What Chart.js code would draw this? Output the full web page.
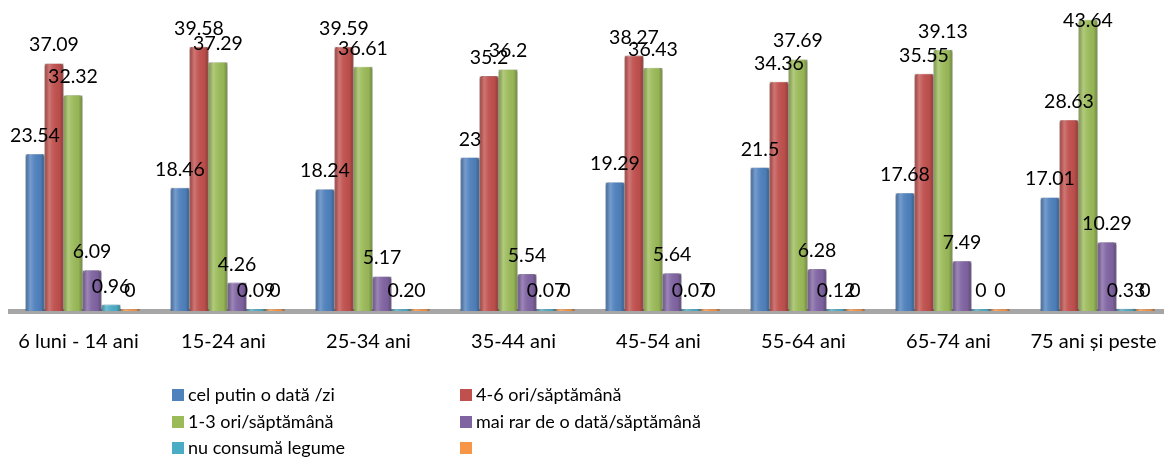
<!DOCTYPE html>
<html>
<head>
<meta charset="utf-8">
<script src="https://cdn.jsdelivr.net/npm/chart.js@4.4.1/dist/chart.umd.min.js"></script>
<style>
  html, body { margin: 0; padding: 0; background: #fff; overflow: hidden; }
  #wrap { width: 1164px; height: 457px; overflow: hidden; }
</style>
</head>
<body>
<div id="wrap"><canvas id="myChart" width="1172" height="457"></canvas></div>
<script>
// age groups
const categories = ['6 luni - 14 ani', '15-24 ani', '25-34 ani', '35-44 ani',
	'45-54 ani', '55-64 ani', '65-74 ani', '75 ani și peste'];

const seriesNames = ['cel putin o dată /zi', '4-6 ori/săptămână', '1-3 ori/săptămână',
	'mai rar de o dată/săptămână', 'nu consumă legume', ''];

const zilnic = [23.54, 18.46, 18.24, 23, 19.29, 21.5, 17.68, 17.01];
const ori46 = [37.09, 39.58, 39.59, 35.2, 38.27, 34.36, 35.55, 28.63];
const ori13 = [32.32, 37.29, 36.61, 36.2, 36.43, 37.69, 39.13, 43.64];
const maiRar = [6.09, 4.26, 5.17, 5.54, 5.64, 6.28, 7.49, 10.29];
const nuConsuma = [0.96, 0.09, 0.2, 0.07, 0.07, 0.12, 0, 0.33];
const gol = [0, 0, 0, 0, 0, 0, 0, 0];

const colors = ['#4F81BD', '#C0504D', '#9BBB59', '#8064A2', '#4BACC6', '#F79646'];
const borders = ['#3A6396', '#943B39', '#76923C', '#5F4A7B', '#31859C', '#C0732F'];

const allValues = [zilnic, ori46, ori13, maiRar, nuConsuma, gol];

const datasets = allValues.map((vals, i) => ({
	label: seriesNames[i],
	data: vals,
	backgroundColor: colors[i],
	borderColor: borders[i],
	borderWidth: 0.6,
	borderSkipped: 'bottom',
	borderRadius: { topLeft: 3, topRight: 3 },
	minBarLength: 2,
	barPercentage: 1,
	categoryPercentage: 0.786
}));

// shading so the bars look like the 3D cylinders
const shadePlugin = {
	id: 'shade',
	afterDatasetsDraw(chart) {
		const ctx = chart.ctx;
		chart.data.datasets.forEach((ds, di) => {
			const meta = chart.getDatasetMeta(di);
			meta.data.forEach(bar => {
				const p = bar.getProps(['x', 'y', 'base', 'width'], true);
				const left = p.x - p.width / 2;
				const g = ctx.createLinearGradient(left, 0, left + p.width, 0);
				g.addColorStop(0, 'rgba(0,0,0,0.22)');
				g.addColorStop(0.25, 'rgba(255,255,255,0.22)');
				g.addColorStop(0.45, 'rgba(255,255,255,0.06)');
				g.addColorStop(0.8, 'rgba(0,0,0,0.04)');
				g.addColorStop(1, 'rgba(0,0,0,0.3)');
				ctx.save();
				ctx.fillStyle = g;
				ctx.fillRect(left, p.y, p.width, p.base - p.y);
				ctx.restore();
			});
		});
	}
};

// value labels above each bar
const valueLabels = {
	id: 'valueLabels',
	afterDatasetsDraw(chart) {
		const ctx = chart.ctx;
		ctx.save();
		ctx.font = '19.5px Lato';
		ctx.fillStyle = '#000';
		ctx.textAlign = 'center';
		ctx.textBaseline = 'alphabetic';
		chart.data.datasets.forEach((ds, di) => {
			const meta = chart.getDatasetMeta(di);
			meta.data.forEach((bar, i) => {
				const p = bar.getProps(['x', 'y'], true);
				// keep the label inside the picture, like the original does
				const ty = Math.max(p.y - 12, 27);
				ctx.fillText(String(ds.data[i]), p.x, ty);
			});
		});
		ctx.restore();
	}
};

// two column legend under the axis
const gridLegend = {
	id: 'gridLegend',
	afterDraw(chart) {
		const ctx = chart.ctx;
		const items = chart.options.plugins.legend.labels.generateLabels(chart);
		const colX = [172, 460];
		const rowY = [395, 422, 448];
		ctx.save();
		ctx.font = '18px Lato';
		ctx.textBaseline = 'middle';
		ctx.textAlign = 'left';
		items.forEach((it, k) => {
			const x = colX[k % 2];
			const y = rowY[Math.floor(k / 2)];
			ctx.fillStyle = colors[it.datasetIndex];
			ctx.fillRect(x, y - 6, 12, 12);
			ctx.fillStyle = '#000';
			ctx.fillText(it.text, x + 16, y);
		});
		ctx.restore();
	}
};

const ctx = document.getElementById('myChart').getContext('2d');
const myChart = new Chart(ctx, {
	type: 'bar',
	data: {
		labels: categories,
		datasets: datasets
	},
	options: {
		responsive: false,
		animation: false,
		layout: { padding: { top: 4, left: 10, right: 2, bottom: 0 } },
		plugins: {
			legend: { display: false },
			tooltip: { enabled: false },
			title: { display: false }
		},
		scales: {
			x: {
				grid: { display: false },
				border: { display: true, color: '#A6A6A6', width: 5 },
				ticks: {
					color: '#000',
					font: { family: 'Lato', size: 20 },
					padding: 11,
					labelOffset: -4,
					maxRotation: 0,
					autoSkip: false
				},
				afterFit: function(scale) { scale.height = 146; }
			},
			y: {
				display: false,
				min: 0,
				max: 46
			}
		}
	},
	plugins: [shadePlugin, valueLabels, gridLegend]
});
</script>
</body>
</html>
